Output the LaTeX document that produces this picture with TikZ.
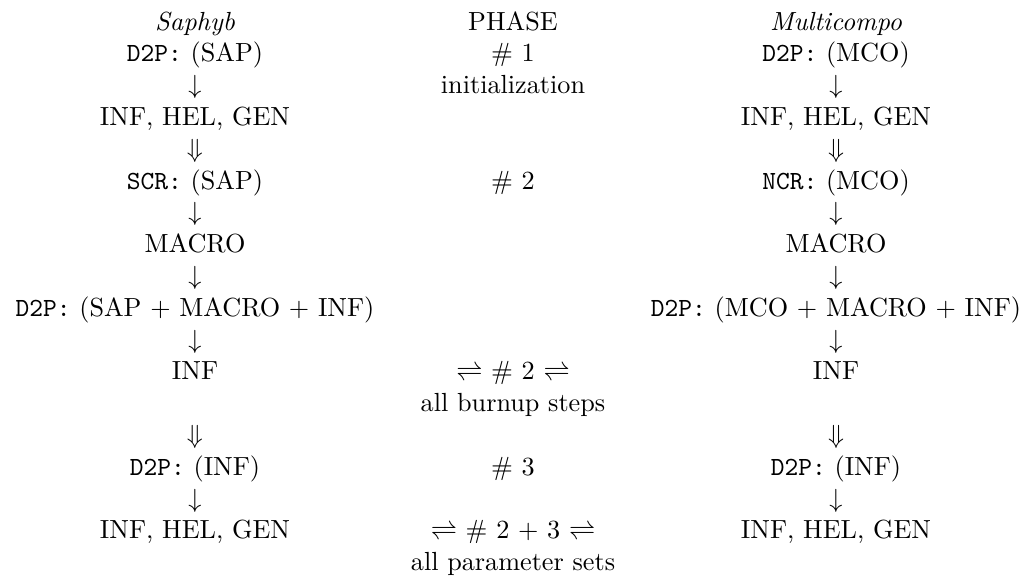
\documentclass[tikz,border=0pt]{standalone}
\begin{document}
\begin{tikzpicture}[x=0.3817pt,y=-0.3817pt,
  cell/.style={anchor=base,inner sep=0pt,outer sep=0pt}]
\useasboundingbox (0,0) rectangle (1025,580);
\def\rs{31.8}
% left column
\node[cell] (l0)  at (195,30+0*\rs)  {\textit{Saphyb}};
\node[cell] (l1)  at (195,30+1*\rs)  {\texttt{D2P:} (SAP)};
\node[cell] (l2)  at (195,30+2*\rs)  {$\downarrow$};
\node[cell] (l3)  at (195,30+3*\rs)  {INF, HEL, GEN};
\node[cell] (l4)  at (195,30+4*\rs)  {$\Downarrow$};
\node[cell] (l5)  at (195,30+5*\rs)  {\texttt{SCR:} (SAP)};
\node[cell] (l6)  at (195,30+6*\rs)  {$\downarrow$};
\node[cell] (l7)  at (195,30+7*\rs)  {MACRO};
\node[cell] (l8)  at (195,30+8*\rs)  {$\downarrow$};
\node[cell] (l9)  at (195,30+9*\rs)  {\texttt{D2P:} (SAP $+$ MACRO $+$ INF)};
\node[cell] (l10) at (195,30+10*\rs) {$\downarrow$};
\node[cell] (l11) at (195,30+11*\rs) {INF};
\node[cell] (l13) at (195,30+13*\rs) {$\Downarrow$};
\node[cell] (l14) at (195,30+14*\rs) {\texttt{D2P:} (INF)};
\node[cell] (l15) at (195,30+15*\rs) {$\downarrow$};
\node[cell] (l16) at (195,30+16*\rs) {INF, HEL, GEN};
% middle column
\node[cell] (m0)  at (513,30+0*\rs)  {PHASE};
\node[cell] (m1)  at (513,30+1*\rs)  {\# 1};
\node[cell] (m2)  at (513,30+2*\rs)  {initialization};
\node[cell] (m5)  at (513,30+5*\rs)  {\# 2};
\node[cell] (m11) at (513,30+11*\rs) {$\rightleftharpoons$ \# 2 $\rightleftharpoons$};
\node[cell] (m12) at (513,30+12*\rs) {all burnup steps};
\node[cell] (m14) at (513,30+14*\rs) {\# 3};
\node[cell] (m16) at (513,30+16*\rs) {$\rightleftharpoons$ \# 2 $+$ 3 $\rightleftharpoons$};
\node[cell] (m17) at (513,30+17*\rs) {all parameter sets};
% right column
\node[cell] (r0)  at (836,30+0*\rs)  {\textit{Multicompo}};
\node[cell] (r1)  at (836,30+1*\rs)  {\texttt{D2P:} (MCO)};
\node[cell] (r2)  at (836,30+2*\rs)  {$\downarrow$};
\node[cell] (r3)  at (836,30+3*\rs)  {INF, HEL, GEN};
\node[cell] (r4)  at (836,30+4*\rs)  {$\Downarrow$};
\node[cell] (r5)  at (836,30+5*\rs)  {\texttt{NCR:} (MCO)};
\node[cell] (r6)  at (836,30+6*\rs)  {$\downarrow$};
\node[cell] (r7)  at (836,30+7*\rs)  {MACRO};
\node[cell] (r8)  at (836,30+8*\rs)  {$\downarrow$};
\node[cell] (r9)  at (836,30+9*\rs)  {\texttt{D2P:} (MCO $+$ MACRO $+$ INF)};
\node[cell] (r10) at (836,30+10*\rs) {$\downarrow$};
\node[cell] (r11) at (836,30+11*\rs) {INF};
\node[cell] (r13) at (836,30+13*\rs) {$\Downarrow$};
\node[cell] (r14) at (836,30+14*\rs) {\texttt{D2P:} (INF)};
\node[cell] (r15) at (836,30+15*\rs) {$\downarrow$};
\node[cell] (r16) at (836,30+16*\rs) {INF, HEL, GEN};
\end{tikzpicture}
\end{document}
